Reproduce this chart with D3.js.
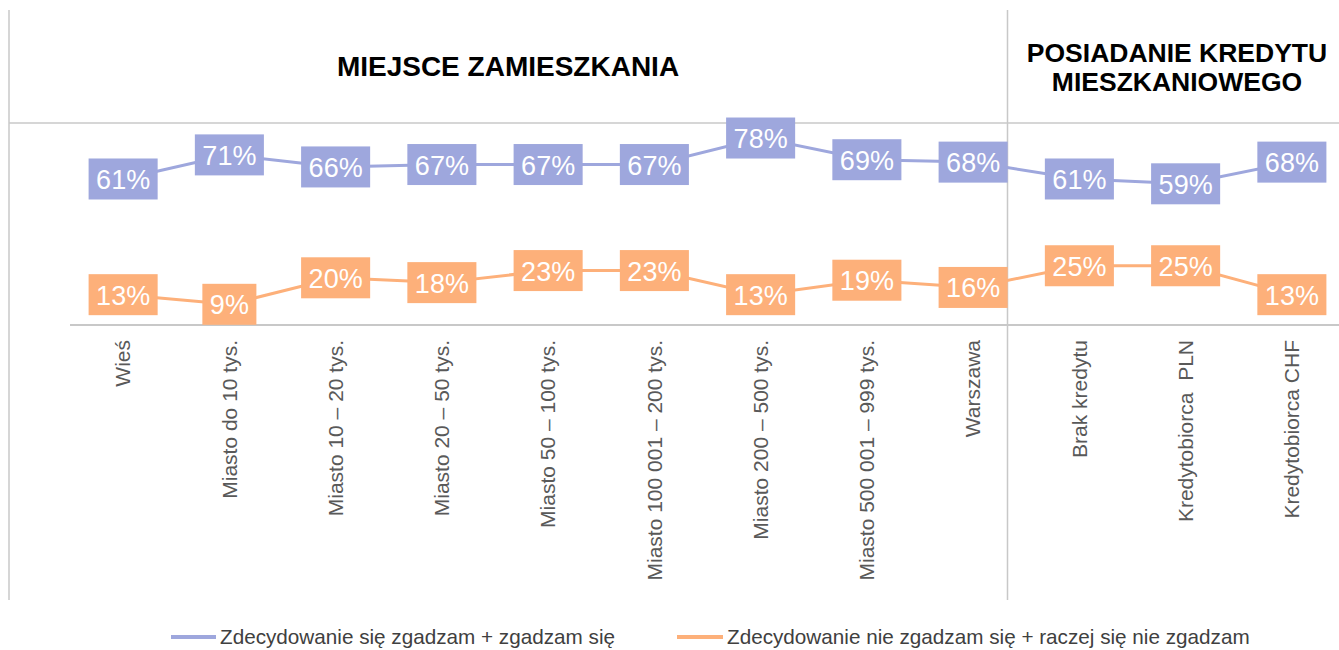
<!DOCTYPE html>
<html>
<head>
<meta charset="utf-8">
<script src="https://cdn.jsdelivr.net/npm/d3@7"></script>
<style>
  html, body { margin: 0; padding: 0; background: #fff; }
  svg { display: block; font-family: "Liberation Sans", Arial, sans-serif; }
</style>
</head>
<body>
<svg id="chart" width="1339" height="650"></svg>
<script>
const categories = ["Wieś", "Miasto do 10 tys.", "Miasto 10 – 20 tys.", "Miasto 20 – 50 tys.",
  "Miasto 50 – 100 tys.", "Miasto 100 001 – 200 tys.", "Miasto 200 – 500 tys.",
  "Miasto 500 001 – 999 tys.", "Warszawa", "Brak kredytu", "Kredytobiorca  PLN", "Kredytobiorca CHF"];
const agreeValues = [61, 71, 66, 67, 67, 67, 78, 69, 68, 61, 59, 68];
const disagreeValues = [13, 9, 20, 18, 23, 23, 13, 19, 16, 25, 25, 13];
const seriesNames = ["Zdecydowanie się zgadzam + zgadzam się", "Zdecydowanie nie zgadzam się + raczej się nie zgadzam"];
const sectionTitles = [["MIEJSCE ZAMIESZKANIA"], ["POSIADANIE KREDYTU", "MIESZKANIOWEGO"]];

const colors = ["#9ea7dd", "#fdb07a"];
const gridColor = "#c8c8c8";

const svg = d3.select("#chart");
svg.append("rect").attr("width", 1339).attr("height", 650).attr("fill", "#fff");

const x = d3.scaleBand().domain(categories).range([70, 1345]);
const cx = d => x(d) + x.bandwidth() / 2;
const y = d3.scaleLinear().domain([0, 100]).range([326, 85]);

// table frame lines
svg.append("line").attr("x1", 9).attr("x2", 9).attr("y1", 10).attr("y2", 600)
  .attr("stroke", gridColor).attr("stroke-width", 1.5);
svg.append("line").attr("x1", 1007.5).attr("x2", 1007.5).attr("y1", 10).attr("y2", 600)
  .attr("stroke", gridColor).attr("stroke-width", 1.5);
svg.append("line").attr("x1", 9).attr("x2", 1339).attr("y1", 123).attr("y2", 123)
  .attr("stroke", gridColor).attr("stroke-width", 1.5);

// x axis
const xAxis = d3.axisBottom(x).tickSize(0).tickPadding(0);
const gx = svg.append("g").attr("transform", `translate(0,${y(0) - 1})`).call(xAxis);
gx.select(".domain").attr("d", "M70,0H1339").attr("stroke", gridColor).attr("stroke-width", 2);
gx.selectAll(".tick text")
  .attr("transform", "rotate(-90)")
  .attr("x", -15).attr("y", 0).attr("dy", "0.35em")
  .attr("text-anchor", "end")
  .attr("font-size", 21)
  .attr("font-family", "'Liberation Sans', Arial, sans-serif")
  .attr("fill", "#595959")
  .style("white-space", "pre");

// section titles
svg.append("text").attr("x", 508).attr("y", 76).attr("text-anchor", "middle")
  .attr("font-size", 28).attr("font-weight", "bold").attr("fill", "#000")
  .text(sectionTitles[0][0]);
sectionTitles[1].forEach((t, i) => {
  svg.append("text").attr("x", 1177).attr("y", 62 + i * 29).attr("text-anchor", "middle")
    .attr("font-size", 26.5).attr("font-weight", "bold").attr("fill", "#000").text(t);
});

// series
const series = [agreeValues, disagreeValues];
const line = d3.line().x((d, i) => cx(categories[i])).y(d => y(d));
series.forEach((vals, si) => {
  svg.append("path").datum(vals).attr("d", line)
    .attr("fill", "none").attr("stroke", colors[si]).attr("stroke-width", 3);
});
series.forEach((vals, si) => {
  const g = svg.append("g");
  vals.forEach((v, i) => {
    const lg = g.append("g").attr("transform", `translate(${cx(categories[i])},${y(v)})`);
    const rect = lg.append("rect").attr("fill", colors[si]);
    const t = lg.append("text").attr("text-anchor", "middle").attr("y", 10)
      .attr("font-size", 27).attr("fill", "#fff").text(v + "%");
    const w = t.node().getComputedTextLength() + 15;
    const h = 41;
    rect.attr("x", -w / 2).attr("y", -h / 2).attr("width", w).attr("height", h);
  });
});

// legend
const legendItems = [{ x1: 171, x2: 216, tx: 220 }, { x1: 677, x2: 723, tx: 727 }];
legendItems.forEach((it, i) => {
  svg.append("line").attr("x1", it.x1).attr("x2", it.x2).attr("y1", 637).attr("y2", 637)
    .attr("stroke", colors[i]).attr("stroke-width", 4);
  svg.append("text").attr("x", it.tx).attr("y", 644).attr("font-size", 20.7)
    .attr("fill", "#404040").text(seriesNames[i]);
});
</script>
</body>
</html>
